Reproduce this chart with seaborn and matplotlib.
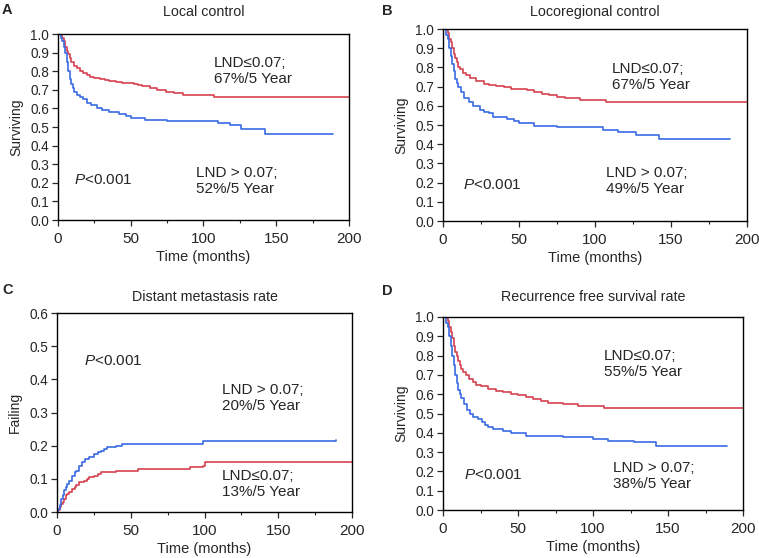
import pandas as pd
import seaborn as sns
import matplotlib.pyplot as plt
from matplotlib.ticker import MultipleLocator

# Kaplan-Meier curves (time in months)
# A - Local control
a_low_t = [0, 3, 4, 5, 6, 7, 8, 9, 11, 13, 15, 17, 20, 22, 25, 29, 32, 35, 40, 44, 47, 52, 55, 58, 63, 68, 74, 80, 86, 95, 107, 200]
a_low_s = [1.0, 0.98, 0.96, 0.93, 0.91, 0.89, 0.87, 0.85, 0.83, 0.815, 0.80, 0.79, 0.78, 0.77, 0.765, 0.76, 0.755, 0.75, 0.74, 0.738, 0.735, 0.73, 0.725, 0.72, 0.71, 0.70, 0.69, 0.685, 0.67, 0.67, 0.66, 0.66]
a_high_t = [0, 2, 3, 4, 5, 6, 7, 8, 9, 10, 11, 13, 15, 17, 20, 23, 27, 30, 35, 42, 47, 50, 60, 75, 100, 110, 118, 126, 142, 189]
a_high_s = [1.0, 0.98, 0.96, 0.93, 0.9, 0.85, 0.8, 0.76, 0.73, 0.71, 0.69, 0.67, 0.66, 0.65, 0.63, 0.62, 0.6, 0.59, 0.58, 0.57, 0.56, 0.55, 0.54, 0.535, 0.53, 0.52, 0.51, 0.49, 0.465, 0.465]

# B - Locoregional control
b_low_t = [0, 3, 4, 5, 6, 7, 8, 9, 10, 11, 13, 15, 18, 22, 27, 30, 35, 40, 45, 50, 55, 60, 65, 70, 75, 80, 90, 107, 200]
b_low_s = [1.0, 0.98, 0.95, 0.93, 0.9, 0.87, 0.85, 0.83, 0.8, 0.79, 0.77, 0.76, 0.745, 0.73, 0.715, 0.71, 0.705, 0.70, 0.69, 0.685, 0.68, 0.67, 0.66, 0.655, 0.645, 0.64, 0.63, 0.62, 0.62]
b_high_t = [0, 2, 3, 4, 5, 6, 7, 8, 9, 10, 12, 14, 17, 20, 24, 27, 30, 33, 42, 47, 50, 60, 75, 100, 105, 115, 127, 142, 189]
b_high_s = [1.0, 0.97, 0.95, 0.9, 0.86, 0.82, 0.78, 0.74, 0.72, 0.7, 0.67, 0.64, 0.62, 0.6, 0.58, 0.57, 0.56, 0.54, 0.53, 0.52, 0.51, 0.495, 0.49, 0.49, 0.475, 0.465, 0.45, 0.425, 0.425]

# C - Distant metastasis rate (failing)
c_high_t = [0, 1, 2, 3, 4, 5, 6, 7, 8, 10, 12, 13, 15, 17, 19, 22, 25, 28, 30, 32, 34, 40, 44, 99, 189]
c_high_s = [0.0, 0.01, 0.02, 0.04, 0.05, 0.065, 0.075, 0.085, 0.095, 0.11, 0.12, 0.125, 0.14, 0.15, 0.16, 0.165, 0.175, 0.18, 0.185, 0.19, 0.195, 0.2, 0.205, 0.215, 0.218]
c_low_t = [0, 1, 2, 3, 4, 5, 6, 7, 8, 10, 12, 13, 15, 18, 20, 22, 25, 28, 30, 35, 40, 55, 90, 99, 100, 200]
c_low_s = [0.0, 0.005, 0.015, 0.025, 0.03, 0.04, 0.05, 0.055, 0.06, 0.07, 0.075, 0.08, 0.09, 0.095, 0.1, 0.105, 0.11, 0.115, 0.12, 0.122, 0.125, 0.13, 0.135, 0.14, 0.15, 0.15]

# D - Recurrence free survival rate
d_low_t = [0, 3, 4, 5, 6, 7, 8, 9, 10, 11, 12, 13, 15, 17, 20, 22, 25, 30, 35, 40, 45, 50, 55, 60, 65, 70, 80, 90, 107, 200]
d_low_s = [1.0, 0.98, 0.95, 0.92, 0.89, 0.85, 0.82, 0.8, 0.77, 0.75, 0.73, 0.715, 0.7, 0.68, 0.665, 0.65, 0.64, 0.625, 0.615, 0.61, 0.60, 0.595, 0.585, 0.575, 0.565, 0.555, 0.55, 0.54, 0.53, 0.53]
d_high_t = [0, 2, 3, 4, 5, 6, 7, 8, 9, 10, 11, 12, 14, 16, 18, 20, 23, 26, 28, 30, 33, 40, 45, 55, 80, 100, 110, 127, 142, 189]
d_high_s = [1.0, 0.97, 0.95, 0.9, 0.85, 0.8, 0.75, 0.7, 0.66, 0.62, 0.6, 0.58, 0.55, 0.52, 0.5, 0.48, 0.47, 0.455, 0.44, 0.43, 0.42, 0.41, 0.4, 0.385, 0.38, 0.37, 0.36, 0.35, 0.33, 0.33]

RED = '#d6424f'
BLUE = '#3a6be3'

sns.set_style('ticks')
plt.rcParams['font.family'] = ['Liberation Sans', 'DejaVu Sans']
plt.rcParams['mathtext.fontset'] = 'custom'
plt.rcParams['mathtext.it'] = 'Liberation Sans:italic'
plt.rcParams['mathtext.rm'] = 'Liberation Sans'

W, H = 759, 558
fig = plt.figure(figsize=(W / 100, H / 100), dpi=100)

panels = [
    # letter, title, rect, ylabel, ymax, curves, texts, (letter x, letter y, title y) in px
    ('A', 'Local control', [0.0764, 0.6057, 0.3834, 0.3333], 'Surviving', 1.0,
     (a_low_t, a_low_s, a_high_t, a_high_s),
     [(107, 0.80, 'LND≤0.07;\n67%/5 Year'), (95, 0.21, 'LND > 0.07;\n52%/5 Year'), (11, 0.215, '$P$<0.001')],
     (2, 10, 12)),
    ('B', 'Locoregional control', [0.5837, 0.6039, 0.4005, 0.3441], 'Surviving', 1.0,
     (b_low_t, b_low_s, b_high_t, b_high_s),
     [(111, 0.75, 'LND≤0.07;\n67%/5 Year'), (107, 0.21, 'LND > 0.07;\n49%/5 Year'), (13, 0.186, '$P$<0.001')],
     (382, 11, 12)),
    ('C', 'Distant metastasis rate', [0.0751, 0.0824, 0.3887, 0.3566], 'Failing', 0.6,
     (c_low_t, c_low_s, c_high_t, c_high_s),
     [(112, 0.343, 'LND > 0.07;\n20%/5 Year'), (112, 0.085, 'LND≤0.07;\n13%/5 Year'), (18, 0.454, '$P$<0.001')],
     (2, 290, 297)),
    ('D', 'Recurrence free survival rate', [0.5837, 0.0860, 0.3953, 0.3459], 'Surviving', 1.0,
     (d_low_t, d_low_s, d_high_t, d_high_s),
     [(107, 0.755, 'LND≤0.07;\n55%/5 Year'), (113, 0.175, 'LND > 0.07;\n38%/5 Year'), (14, 0.181, '$P$<0.001')],
     (382, 291, 297)),
]

for letter, title, rect, ylab, ymax, curves, texts, pos in panels:
    ax = fig.add_axes(rect)
    lt, ls, ht, hs = curves
    df = pd.concat([
        pd.DataFrame({'t': lt, 's': ls, 'g': 'low'}),
        pd.DataFrame({'t': ht, 's': hs, 'g': 'high'}),
    ])
    sns.lineplot(data=df, x='t', y='s', hue='g', palette={'low': RED, 'high': BLUE},
                 estimator=None, sort=False, drawstyle='steps-post', linewidth=1.2,
                 legend=False, ax=ax)
    ax.set_xlim(0, 200)
    ax.set_ylim(0, ymax)
    ax.xaxis.set_major_locator(MultipleLocator(50))
    ax.xaxis.set_minor_locator(MultipleLocator(25))
    ax.yaxis.set_major_locator(MultipleLocator(0.1))
    ax.yaxis.set_major_formatter(plt.FormatStrFormatter('%.1f'))
    ax.tick_params(which='major', length=4.5, width=0.9, pad=2)
    ax.tick_params(which='minor', length=2.5, width=0.8)
    ax.tick_params(axis='y', labelsize=9.8)
    ax.tick_params(axis='x', labelsize=11, pad=4)
    for sp in ax.spines.values():
        sp.set_linewidth(1.0)
        sp.set_color('black')
    ax.set_xlabel('Time (months)', fontsize=10.5, labelpad=3)
    ax.set_ylabel(ylab, fontsize=10, labelpad=5)
    for x, y, s in texts:
        ax.text(x, y, s, fontsize=11, ha='left', va='center', linespacing=1.15)
    lx, ly, ty = pos
    fig.text(rect[0] + rect[2] / 2, 1 - ty / H, title, fontsize=10.3,
             ha='center', va='center')
    fig.text(lx / W, 1 - ly / H, letter, fontsize=10.5,
             fontweight='bold', va='center', ha='left')

fig.savefig('out.png', dpi=100)
